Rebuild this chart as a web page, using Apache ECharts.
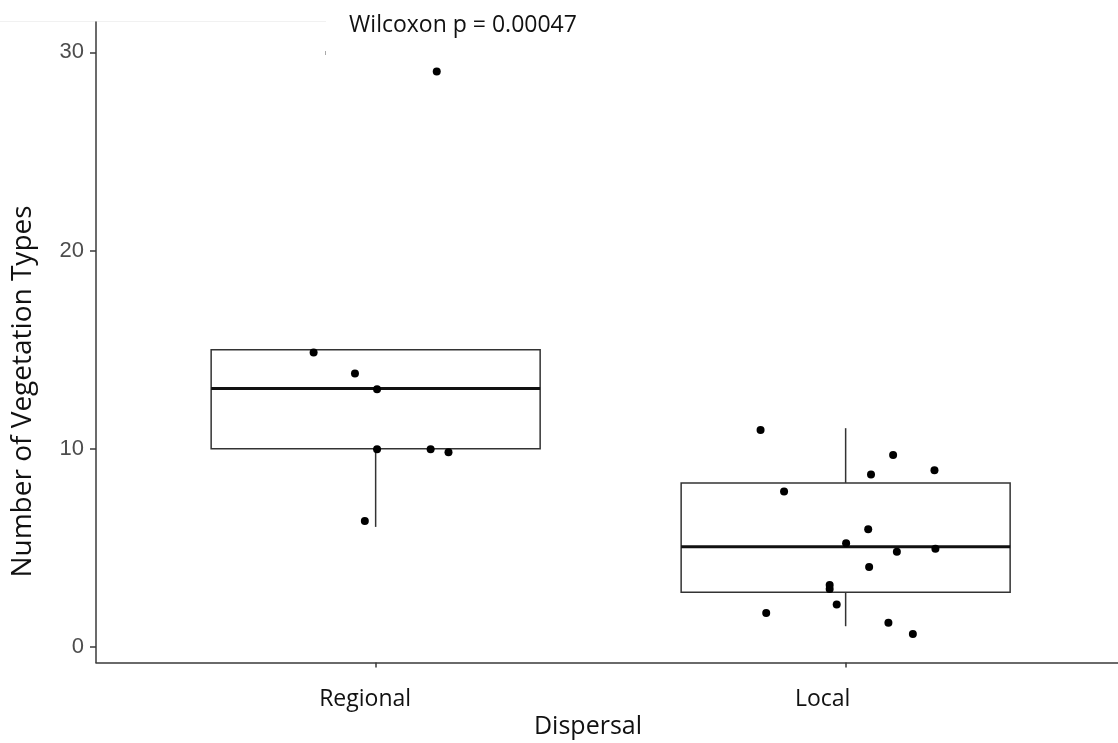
<!DOCTYPE html>
<html>
<head>
<meta charset="utf-8">
<title>Number of Vegetation Types by Dispersal</title>
<script src="https://cdn.jsdelivr.net/npm/echarts@6/dist/echarts.min.js"></script>
<style>
  html, body { margin: 0; padding: 0; background: #ffffff; }
  #chart { width: 1118px; height: 743px; }
</style>
</head>
<body>
<div id="chart"></div>
<script>
// Groups on the x axis (placed at positions 1 and 2)
const categories = ['Regional', 'Local'];

// Box statistics per group: [lower whisker, Q1, median, Q3, upper whisker]
const boxStats = [
  [6.06, 10.0, 13.04, 15.0, 15.0],
  [1.05, 2.77, 5.06, 8.28, 11.04]
];

// Observed counts (jittered points) and their horizontal jitter offsets
const regionalValues = [14.86, 13.80, 13.01, 9.98, 9.98, 9.83, 6.36, 29.03];
const regionalJitter = [-0.132, -0.044, 0.003, 0.003, 0.117, 0.155, -0.023, 0.130];
const localValues = [10.95, 9.69, 8.70, 8.92, 7.84, 5.94, 5.23, 4.81, 4.96, 4.04, 3.13, 2.93, 2.14, 1.72, 1.23, 0.66];
const localJitter = [-0.181, 0.101, 0.054, 0.189, -0.131, 0.048, 0.001, 0.109, 0.191, 0.050, -0.034, -0.034, -0.019, -0.169, 0.091, 0.143];

// Y axis tick values
const yTicks = [0, 10, 20, 30];

const annotation = 'Wilcoxon p = 0.00047';
const xTitle = 'Dispersal';
const yTitle = 'Number of Vegetation Types';

const boxData = boxStats.map((s, i) => [i + 1].concat(s));
const pointData = []
  .concat(regionalValues.map((v, i) => [1 + regionalJitter[i], v]))
  .concat(localValues.map((v, i) => [2 + localJitter[i], v]));

const BOX_HALF = 0.35;
const LINE = '#333333';

function renderBox(params, api) {
  const x = api.value(0);
  const lo = api.value(1), q1 = api.value(2), med = api.value(3), q3 = api.value(4), hi = api.value(5);
  const tl = api.coord([x - BOX_HALF, q3]);
  const br = api.coord([x + BOX_HALF, q1]);
  const cMed = api.coord([x, med]);
  const cLo = api.coord([x, lo]);
  const cHi = api.coord([x, hi]);
  const cQ1 = api.coord([x, q1]);
  const cQ3 = api.coord([x, q3]);
  const children = [];
  if (hi > q3) {
    children.push({ type: 'line', shape: { x1: cHi[0], y1: cHi[1], x2: cQ3[0], y2: cQ3[1] },
      style: { stroke: LINE, lineWidth: 1.5 } });
  }
  if (lo < q1) {
    children.push({ type: 'line', shape: { x1: cQ1[0], y1: cQ1[1], x2: cLo[0], y2: cLo[1] },
      style: { stroke: LINE, lineWidth: 1.5 } });
  }
  children.push({ type: 'rect', shape: { x: tl[0], y: tl[1], width: br[0] - tl[0], height: br[1] - tl[1] },
    style: { fill: '#ffffff', stroke: LINE, lineWidth: 1.5 } });
  children.push({ type: 'line', shape: { x1: tl[0], y1: cMed[1], x2: br[0], y2: cMed[1] },
    style: { stroke: '#111111', lineWidth: 3 } });
  return { type: 'group', children: children };
}

const chart = echarts.init(document.getElementById('chart'), null, { renderer: 'canvas' });

chart.setOption({
  backgroundColor: '#ffffff',
  animation: false,
  grid: { left: 96, right: 0, top: 22, bottom: 80.5, containLabel: false, outerBoundsMode: 'none' },
  xAxis: {
    type: 'value',
    min: 0.405,
    max: 2.5795,
    splitLine: { show: false },
    axisLine: { show: true, onZero: false, lineStyle: { color: '#3a3a3a', width: 1.5 } },
    axisTick: { show: true, length: 5, customValues: [1, 2], lineStyle: { color: '#3a3a3a', width: 1.5 } },
    axisLabel: {
      show: true,
      customValues: [1, 2],
      margin: 25,
      formatter: v => {
        const name = categories[Math.round(v) - 1] || '';
        return Math.round(v) === 1 ? '{r|' + name + '}' : '{l|' + name + '}';
      },
      color: '#111111',
      fontFamily: 'Open Sans',
      fontSize: 23,
      rich: {
        r: { fontFamily: 'Open Sans', fontSize: 23, color: '#111111', padding: [0, 21, 0, 0] },
        l: { fontFamily: 'Open Sans', fontSize: 23, color: '#111111', padding: [0, 46, 0, 0] }
      }
    }
  },
  yAxis: {
    type: 'value',
    min: -0.78,
    max: 31.53,
    splitLine: { show: false },
    axisLine: { show: true, onZero: false, lineStyle: { color: '#3a3a3a', width: 1.5 } },
    axisTick: { show: true, length: 6, customValues: yTicks, lineStyle: { color: '#3a3a3a', width: 1.5 } },
    axisLabel: {
      show: true,
      customValues: yTicks,
      margin: 12,
      color: '#4d4d4d',
      fontFamily: 'Liberation Sans',
      fontSize: 22
    }
  },
  series: [
    {
      type: 'custom',
      name: 'box',
      renderItem: renderBox,
      data: boxData,
      encode: { x: 0, y: [1, 2, 3, 4, 5] },
      z: 2
    },
    {
      type: 'scatter',
      name: 'points',
      data: pointData,
      symbol: 'circle',
      symbolSize: 8,
      itemStyle: { color: '#000000', opacity: 1 },
      z: 3
    }
  ],
  graphic: [
    {
      type: 'line',
      shape: { x1: 0, y1: 21.5, x2: 326, y2: 21.5 },
      style: { stroke: '#f1f1f1', lineWidth: 1 },
      silent: true
    },
    {
      type: 'line',
      shape: { x1: 325.5, y1: 51, x2: 325.5, y2: 55 },
      style: { stroke: '#aaaaaa', lineWidth: 1 },
      silent: true
    },
    {
      type: 'text',
      x: 463, y: 25,
      style: { text: annotation, font: '23px "Open Sans"', fill: '#111111', align: 'center', verticalAlign: 'middle' }
    },
    {
      type: 'text',
      x: 588, y: 727,
      style: { text: xTitle, font: '25px "Open Sans"', fill: '#111111', align: 'center', verticalAlign: 'middle' }
    },
    {
      type: 'text',
      x: 23, y: 391.5,
      rotation: Math.PI / 2,
      style: { text: yTitle, font: '28px "Open Sans"', fill: '#111111', align: 'center', verticalAlign: 'middle' }
    }
  ]
});
</script>
</body>
</html>
